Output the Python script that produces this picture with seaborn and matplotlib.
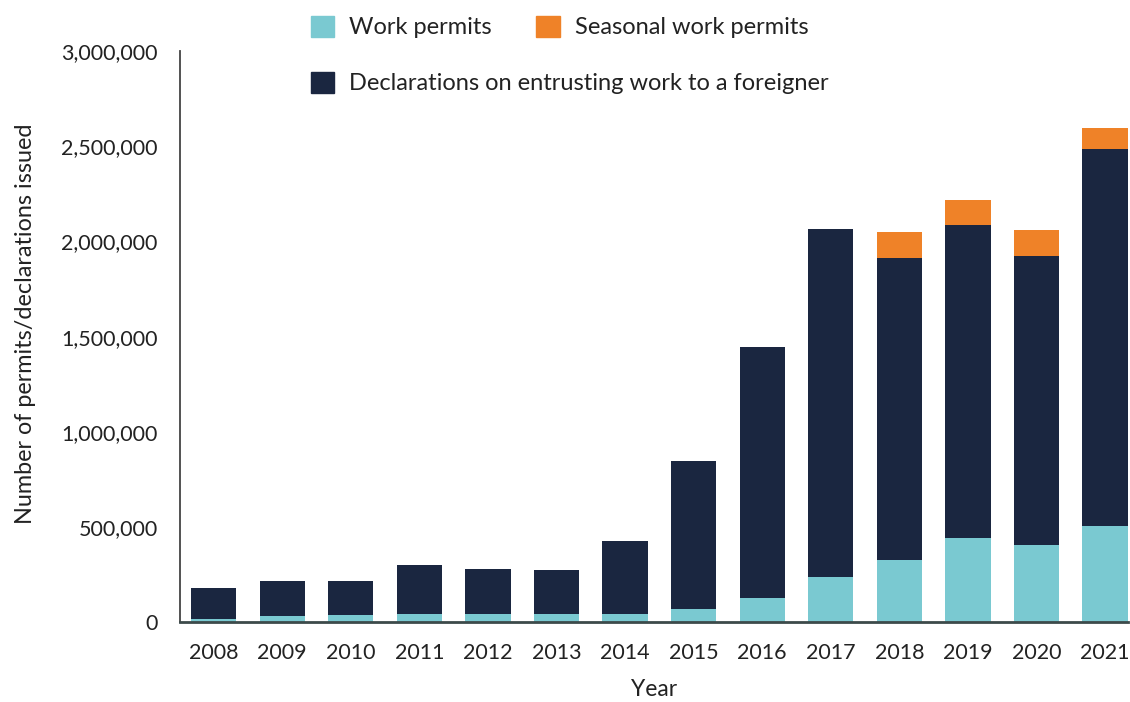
import pandas as pd
import matplotlib.pyplot as plt
import matplotlib.patches as mpatches
from matplotlib.ticker import FuncFormatter
import seaborn as sns

years = ['2008', '2009', '2010', '2011', '2012', '2013', '2014',
         '2015', '2016', '2017', '2018', '2019', '2020', '2021']
work_permits = [18000, 29000, 36000, 41000, 40000, 40000, 43000,
                66000, 126000, 234000, 326000, 442000, 405000, 506000]
declarations = [158000, 187000, 180000, 257000, 239000, 234000, 384000,
                781000, 1318000, 1830000, 1588000, 1646000, 1521000, 1981000]
seasonal = [0, 0, 0, 0, 0, 0, 0, 0, 0, 0, 135000, 131000, 137000, 110000]

c_work = '#7AC9D1'
c_decl = '#1A2640'
c_seas = '#EF8228'
txt = '#222222'

df = pd.DataFrame({'Year': years, 'work': work_permits,
                   'decl': declarations, 'seas': seasonal})
df['lvl2'] = df['work'] + df['decl']
df['lvl3'] = df['lvl2'] + df['seas']

sns.set_style('white')
plt.rcParams['font.family'] = ['Lato', 'DejaVu Sans']

fig = plt.figure(figsize=(11.3, 7.02), dpi=100)
ax = fig.add_axes([0.1593, 0.114, 0.8387, 0.813])

# stacked bars: draw totals first, then lower layers on top
sns.barplot(data=df, x='Year', y='lvl3', color=c_seas, width=0.66,
            saturation=1, linewidth=0, ax=ax)
sns.barplot(data=df, x='Year', y='lvl2', color=c_decl, width=0.66,
            saturation=1, linewidth=0, ax=ax)
sns.barplot(data=df, x='Year', y='work', color=c_work, width=0.66,
            saturation=1, linewidth=0, ax=ax)

ax.set_xlim(-0.49, 13.33)
ax.set_ylim(0, 3000000)
ax.set_yticks(range(0, 3000001, 500000))
ax.yaxis.set_major_formatter(FuncFormatter(lambda v, p: f'{int(v):,}'))
ax.tick_params(axis='both', length=0, labelsize=15.5, colors=txt)
ax.tick_params(axis='y', pad=16)
ax.tick_params(axis='x', pad=15)

ax.set_xlabel('Year', fontsize=16.5, color=txt, labelpad=12)
ax.set_ylabel('Number of permits/declarations issued', fontsize=16.8,
              color=txt)
ax.yaxis.set_label_coords(-0.152, 0.522)

for s in ['top', 'right']:
    ax.spines[s].set_visible(False)
ax.spines['left'].set_color('#444444')
ax.spines['left'].set_linewidth(1.3)
ax.spines['bottom'].set_color('#3c4a4a')
ax.spines['bottom'].set_linewidth(2)

h_work = mpatches.Patch(color=c_work, label='Work permits')
h_seas = mpatches.Patch(color=c_seas, label='Seasonal work permits')
h_decl = mpatches.Patch(color=c_decl, label='Declarations on entrusting work to a foreigner')

fig.legend(handles=[h_work, h_seas], ncol=2, loc='upper left',
           bbox_to_anchor=(0.256, 1.008), frameon=False, fontsize=17,
           handlelength=1.0, handleheight=1.0, handletextpad=0.62,
           columnspacing=1.9, labelcolor=txt)
fig.legend(handles=[h_decl], loc='upper left',
           bbox_to_anchor=(0.256, 0.928), frameon=False, fontsize=17,
           handlelength=1.0, handleheight=1.0, handletextpad=0.62,
           labelcolor=txt)

fig.savefig('out.png', dpi=100)
